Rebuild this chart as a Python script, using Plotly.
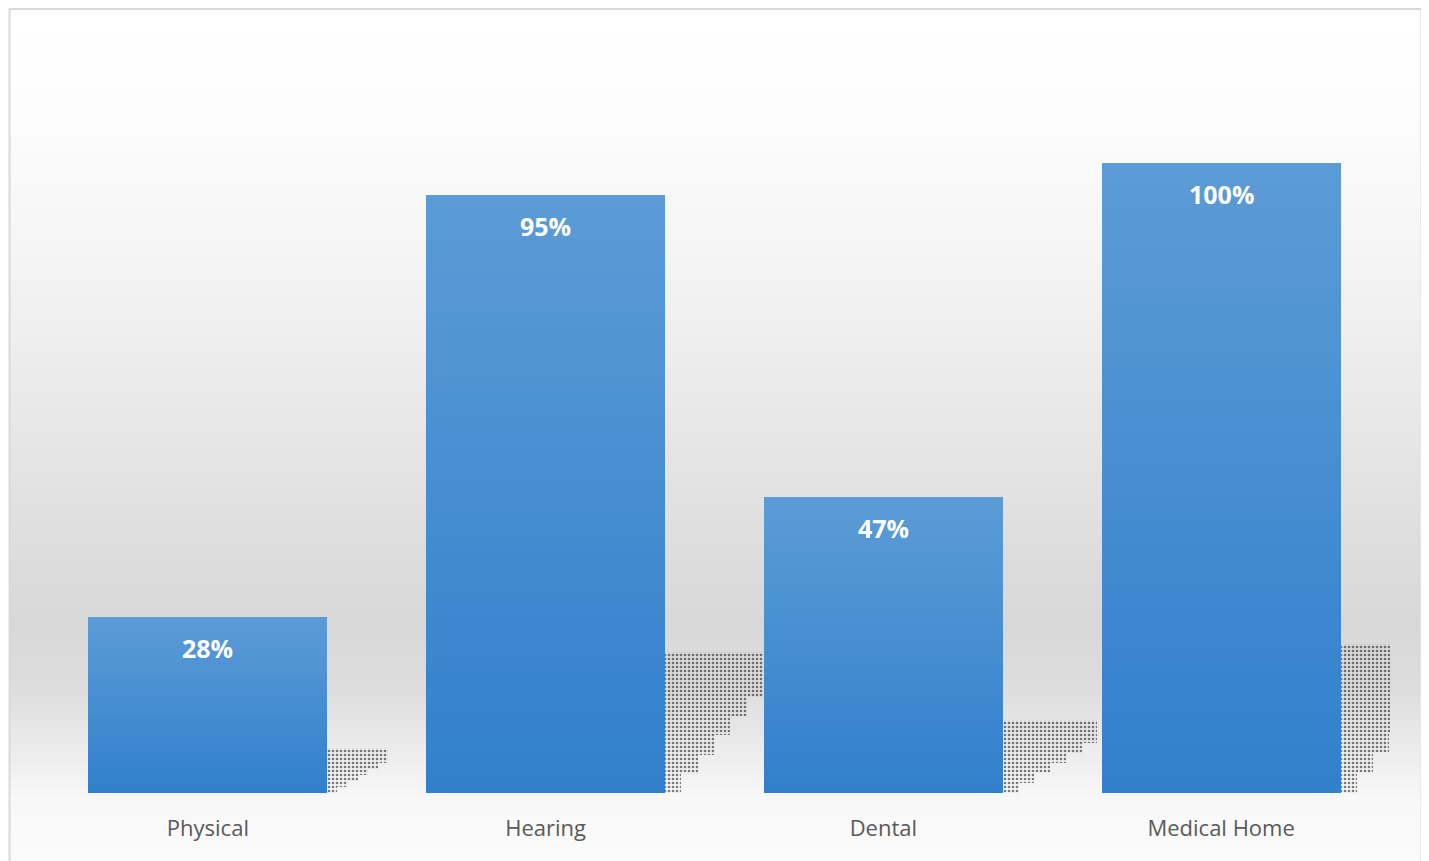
import plotly.graph_objects as go
import numpy as np

# ---- data ----
categories = ["Physical", "Hearing", "Dental", "Medical Home"]
values = [28, 95, 47, 100]
labels = ["28%", "95%", "47%", "100%"]
# approximate dotted shadow extents (styling, in axis units)
shadow_heights = [7.1, 22.4, 11.6, 23.7]
shadow_widths = [0.18, 0.29, 0.28, 0.29]

OFF = 8  # page body margin
W, H = 1429 - OFF, 861 - OFF
L, R = 38.5 - OFF, 1429 - 1390.5
B = 861 - 793
T = 37 - OFF
YMAX = 120
plot_h = H - T - B

def py_to_paper(py):  # py in reference pixels
    return (861 - B - py) / plot_h

def px_to_paper(px):  # px in reference pixels
    return (px - 38.5) / (1390.5 - 38.5)

fig = go.Figure()

# ---- gradient bars via stacked segments ----
N = 40
top_c = np.array([92, 156, 214])
bot_c = np.array([49, 127, 204])
for k in range(N):
    t = (k + 0.5) / N
    c = bot_c + (top_c - bot_c) * t
    col = "rgb(%d,%d,%d)" % tuple(c.round().astype(int))
    fig.add_trace(go.Bar(
        x=categories,
        y=[v / N + (0.02 if k < N - 1 else 0) for v in values],
        base=[v * k / N for v in values],
        width=0.707,
        marker=dict(color=col, line=dict(width=0)),
        hoverinfo="skip",
        showlegend=False,
    ))

# ---- dotted shadows ----
nc = 6
for j in range(nc):
    offs = [0.3535 + j * w / nc for w in shadow_widths]
    wid = [w / nc for w in shadow_widths]
    bases = [h * 0.68 * j / (nc - 1) for h in shadow_heights]
    fig.add_trace(go.Bar(
        x=categories,
        y=[h - b for h, b in zip(shadow_heights, bases)],
        base=bases,
        offset=offs,
        width=wid,
        marker=dict(
            color="rgba(0,0,0,0)",
            line=dict(width=0),
            pattern=dict(shape=".", fgcolor="#000000", bgcolor="rgba(0,0,0,0)",
                         size=4, solidity=0.35, fillmode="overlay"),
        ),
        hoverinfo="skip",
        showlegend=False,
    ))

# ---- value labels ----
for c, v, lab in zip(categories, values, labels):
    fig.add_annotation(
        x=c, y=v, yref="y", text="<b>%s</b>" % lab, showarrow=False,
        yanchor="top", yshift=-12,
        font=dict(family="Open Sans", size=25, color="white"),
    )

# ---- background gradient ----
stops_py = [4, 110, 250, 400, 540, 625, 690, 760, 800, 861]
stops_g = [255, 253, 245, 233, 222, 216, 221, 238, 248, 251]
shapes = []
ys = np.arange(8, 862, 4)
for y0 in ys:
    y1 = min(y0 + 4, 862)
    g = int(round(np.interp((y0 + y1) / 2, stops_py, stops_g)))
    shapes.append(dict(
        type="rect", xref="paper", yref="paper", layer="below",
        x0=px_to_paper(9), x1=px_to_paper(1421),
        y0=py_to_paper(y1), y1=py_to_paper(y0),
        fillcolor="rgb(%d,%d,%d)" % (g, g, g), line=dict(width=0),
    ))
# chart border
shapes.append(dict(
    type="rect", xref="paper", yref="paper", layer="below",
    x0=px_to_paper(9), x1=px_to_paper(1422),
    y0=py_to_paper(866), y1=py_to_paper(9),
    fillcolor="rgba(0,0,0,0)", line=dict(color="#d9d9d9", width=2),
))

fig.update_layout(
    width=W, height=H,
    margin=dict(l=L, r=R, t=T, b=B, pad=0),
    paper_bgcolor="white",
    plot_bgcolor="rgba(0,0,0,0)",
    barmode="overlay",
    bargap=0,
    shapes=shapes,
    font=dict(family="Open Sans"),
)
fig.update_xaxes(
    range=[-0.5, 3.5],
    showgrid=False, showline=False, zeroline=False, ticks="",
    tickfont=dict(family="Open Sans", size=22, color="#595959"),
    ticklabelstandoff=20,
)
fig.update_yaxes(
    range=[0, YMAX], visible=False, showgrid=False, zeroline=False,
)

fig.write_html("out.html")
